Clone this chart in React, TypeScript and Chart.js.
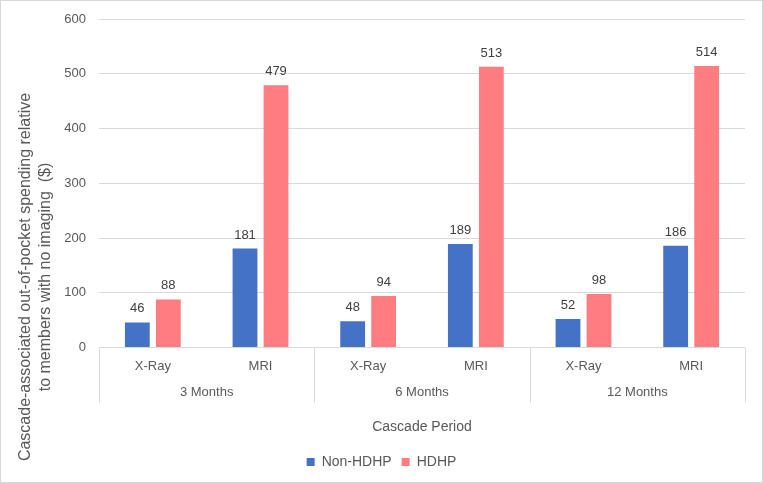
import React, { useEffect, useRef } from "react";
import { Chart, registerables } from "chart.js";

Chart.register(...registerables);

const subCategories = ["X-Ray", "MRI", "X-Ray", "MRI", "X-Ray", "MRI"];
const groupLabels = ["3 Months", "6 Months", "12 Months"];
const nonHdhp = [46, 181, 48, 189, 52, 186];
const hdhp = [88, 479, 94, 513, 98, 514];
const yTicks = [0, 100, 200, 300, 400, 500, 600];
const yTitleLines = [
  "Cascade-associated out-of-pocket spending relative",
  "to members with no imaging  ($)",
];
const xTitle = "Cascade Period";

const FONT = "'Liberation Sans', Arial, sans-serif";
const TEXT = "#595959";
const GRID = "#d9d9d9";

const overlayPlugin = {
  id: "overlay",
  afterDatasetsDraw(chart: any) {
    const ctx = chart.ctx;
    ctx.save();
    ctx.font = `13px ${FONT}`;
    ctx.fillStyle = "#404040";
    ctx.textAlign = "center";
    ctx.textBaseline = "bottom";
    chart.data.datasets.forEach((ds: any, di: number) => {
      const meta = chart.getDatasetMeta(di);
      meta.data.forEach((el: any, i: number) => {
        ctx.fillText(String(ds.data[i]), el.x, el.y - 7);
      });
    });
    ctx.restore();
  },
  afterDraw(chart: any) {
    const ctx = chart.ctx;
    const x = chart.scales.x;
    const area = chart.chartArea;
    ctx.save();
    const bounds = [area.left];
    for (let g = 1; g < groupLabels.length; g++) {
      bounds.push((x.getPixelForValue(2 * g - 1) + x.getPixelForValue(2 * g)) / 2);
    }
    bounds.push(area.right);
    ctx.strokeStyle = GRID;
    ctx.lineWidth = 1;
    bounds.forEach((bx) => {
      const px = Math.round(bx) + 0.5;
      ctx.beginPath();
      ctx.moveTo(px, area.bottom);
      ctx.lineTo(px, area.bottom + 55);
      ctx.stroke();
    });
    ctx.font = `13px ${FONT}`;
    ctx.fillStyle = TEXT;
    ctx.textAlign = "center";
    ctx.textBaseline = "middle";
    groupLabels.forEach((lab, g) => {
      const cx = (x.getPixelForValue(2 * g) + x.getPixelForValue(2 * g + 1)) / 2;
      ctx.fillText(lab, cx, area.bottom + 45);
    });
    ctx.font = `16px ${FONT}`;
    ctx.translate(0, 276);
    ctx.rotate(-Math.PI / 2);
    yTitleLines.forEach((line, i) => {
      ctx.fillText(line, 0, 25 + i * 20);
    });
    ctx.restore();
  },
};

export default function App() {
  const ref = useRef<HTMLCanvasElement | null>(null);
  useEffect(() => {
    if (!ref.current) return;
    const chart = new Chart(ref.current, {
      type: "bar",
      data: {
        labels: subCategories,
        datasets: [
          { label: "Non-HDHP", data: nonHdhp, backgroundColor: "#4472C4" },
          { label: "HDHP", data: hdhp, backgroundColor: "#FF7C80" },
        ],
      },
      options: {
        animation: false,
        responsive: false,
        maintainAspectRatio: false,
        categoryPercentage: 0.576,
        barPercentage: 0.8,
        layout: { padding: { top: 18, left: 17, right: 17, bottom: 3 } },
        plugins: {
          tooltip: { enabled: false },
          legend: {
            position: "bottom",
            labels: {
              boxWidth: 8,
              boxHeight: 8,
              padding: 10,
              color: TEXT,
              font: { family: FONT, size: 14 },
            },
          },
        },
        scales: {
          x: {
            grid: { display: false, drawTicks: false },
            border: { display: false },
            ticks: { color: TEXT, font: { family: FONT, size: 13 }, padding: 11 },
            title: {
              display: true,
              text: xTitle,
              color: TEXT,
              font: { family: FONT, size: 14 },
              padding: { top: 34, bottom: 9 },
            },
          },
          y: {
            min: 0,
            max: 600,
            afterFit(scale: any) {
              scale.width = 81;
              scale.paddingTop = 0;
            },
            afterBuildTicks(scale: any) {
              scale.ticks = yTicks.map((v) => ({ value: v }));
            },
            grid: { color: GRID, drawTicks: false },
            border: { display: false },
            ticks: { color: TEXT, font: { family: FONT, size: 13 }, padding: 13 },
          },
        },
      },
      plugins: [overlayPlugin],
    });
    return () => chart.destroy();
  }, []);
  return (
    <div
      style={{
        position: "absolute",
        left: 0,
        top: 0,
        width: 763,
        height: 483,
        boxSizing: "border-box",
        border: "1px solid #d9d9d9",
        background: "#fff",
      }}
    >
      <canvas ref={ref} width={761} height={481} style={{ display: "block" }} />
    </div>
  );
}
